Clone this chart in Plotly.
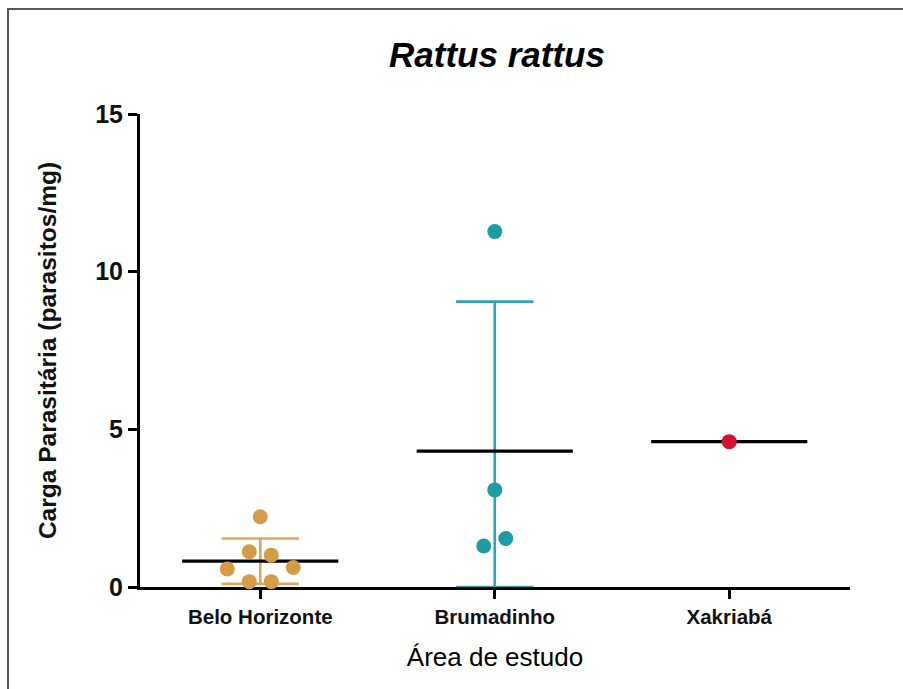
import plotly.graph_objects as go

# ---------------- data ----------------
categories = ["Belo Horizonte", "Brumadinho", "Xakriabá"]
bh_values = [2.23, 1.12, 1.01, 0.57, 0.62, 0.17, 0.17]
brum_values = [11.27, 3.08, 1.30, 1.54]
xak_values = [4.61]
group_values = [bh_values, brum_values, xak_values]
group_means = [0.82, 4.31, 4.61]
group_sds = [0.72, 4.74, 0.0]
y_tick_values = [0, 5, 10, 15]

# ---------------- styles ----------------
W, H = 903, 689
M_L, M_R, M_T, M_B = 140, 53, 114, 102
X_RANGE = [-0.513, 2.515]
Y_RANGE = [0, 15]
dot_colors = ["#D49B48", "#1F9CA3", "#D3122E"]
bar_colors = ["#D8A85E", "#2BA7B0", "#D3122E"]
FONT = "Liberation Sans, Arial, sans-serif"
MEAN_HALF = 0.333
CAP_HALF = 0.165
DOT_PX = 15

plot_w = W - M_L - M_R
plot_h = H - M_T - M_B
px_x = plot_w / (X_RANGE[1] - X_RANGE[0])
px_y = plot_h / (Y_RANGE[1] - Y_RANGE[0])


def swarm_offsets(vals, d_px=15.0, step_px=22.0, row_px=10.0):
    """Prism-like scatter layout: rows of close values spread symmetrically."""
    order = sorted(range(len(vals)), key=lambda i: vals[i])
    rows = []
    for i in order:
        if rows and (vals[i] - vals[rows[-1][0]]) * px_y <= row_px:
            rows[-1].append(i)
        else:
            rows.append([i])
    off = [0.0] * len(vals)
    placed = []
    for row in rows:
        row = sorted(row)
        n = len(row)
        base = [k - (n - 1) / 2 for k in range(n)]
        extra = 0
        while True:
            cand = [b + (extra if b > 0 else (-extra if b < 0 else 0)) for b in base]
            ok = True
            for c, i in zip(cand, row):
                for po, pv in placed:
                    dx = c * step_px - po
                    dy = (vals[i] - pv) * px_y
                    if dx * dx + dy * dy < d_px * d_px:
                        ok = False
            if ok:
                break
            extra += 1
        for c, i in zip(cand, row):
            off[i] = c * step_px / px_x
            placed.append((c * step_px, vals[i]))
    return off


fig = go.Figure()

# error bars and mean lines
for gi, (m, sd) in enumerate(zip(group_means, group_sds)):
    if sd > 0:
        lo = max(m - sd, Y_RANGE[0])
        hi = m + sd
        fig.add_trace(go.Scatter(
            x=[gi, gi, None, gi - CAP_HALF, gi + CAP_HALF, None, gi - CAP_HALF, gi + CAP_HALF],
            y=[lo, hi, None, hi, hi, None, lo, lo],
            mode="lines", line=dict(color=bar_colors[gi], width=2.6),
            hoverinfo="skip", showlegend=False, cliponaxis=False))
    fig.add_trace(go.Scatter(
        x=[gi - MEAN_HALF, gi + MEAN_HALF], y=[m, m],
        mode="lines", line=dict(color="#000000", width=3.2),
        hoverinfo="skip", showlegend=False))

# points
for gi, vals in enumerate(group_values):
    offs = swarm_offsets(vals)
    fig.add_trace(go.Scatter(
        x=[gi + o for o in offs], y=vals, mode="markers",
        marker=dict(size=DOT_PX, color=dot_colors[gi], line=dict(width=0)),
        cliponaxis=False, showlegend=False, name=categories[gi]))

# outer frame (left and top edges visible)
fig.add_shape(type="rect", xref="paper", yref="paper",
              x0=(8 - M_L) / plot_w, x1=(W + 20 - M_L) / plot_w,
              y0=-(H + 20 - (H - M_B)) / plot_h, y1=(H - M_B - 9) / plot_h,
              line=dict(color="#5a5a5a", width=2), fillcolor="rgba(0,0,0,0)")

fig.update_layout(
    width=W, height=H,
    margin=dict(l=M_L, r=M_R, t=M_T, b=M_B, pad=0),
    paper_bgcolor="white", plot_bgcolor="white",
    font=dict(family=FONT, color="#111111"),
    title=dict(text="<b><i>Rattus rattus</i></b>", x=(497) / W, xanchor="center",
               y=(H - 55) / H, yanchor="middle", yref="container",
               font=dict(size=35, family=FONT, color="#000000")),
    xaxis=dict(range=X_RANGE, tickvals=[0, 1, 2], ticktext=[f"<b>{c}</b>" for c in categories],
               showline=True, linecolor="#000000", linewidth=3,
               ticks="outside", ticklen=9, tickwidth=3, tickcolor="#000000",
               tickfont=dict(size=20.5, family=FONT, color="#111111"),
               showgrid=False, zeroline=False, layer="below traces",
               title=dict(text="Área de estudo", font=dict(size=26, family=FONT, color="#000000"),
                          standoff=22)),
    yaxis=dict(range=Y_RANGE, tickvals=y_tick_values, ticktext=[f"<b>{v}</b>" for v in y_tick_values],
               showline=True, linecolor="#000000", linewidth=3,
               ticks="outside", ticklen=9, tickwidth=3, tickcolor="#000000",
               tickfont=dict(size=25, family=FONT, color="#111111"),
               showgrid=False, zeroline=False, layer="below traces",
               title=dict(text="<b>Carga Parasitária (parasitos/mg)</b>",
                          font=dict(size=24.5, family=FONT, color="#111111"), standoff=32)),
)

fig.write_html("out.html")
